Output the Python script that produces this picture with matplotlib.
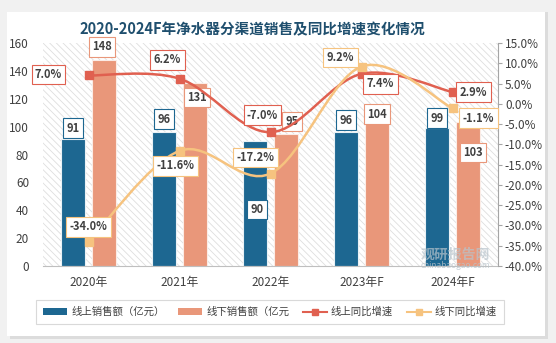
import matplotlib
matplotlib.use("Agg")
import matplotlib.pyplot as plt
from matplotlib.patches import Rectangle, Patch, PathPatch
from matplotlib.lines import Line2D
from matplotlib.path import Path
import numpy as np

plt.rcParams['font.family'] = ['Noto Sans CJK SC', 'DejaVu Sans']
plt.rcParams['hatch.linewidth'] = 0.6

# ---- data ----
years = ["2020年", "2021年", "2022年", "2023年F", "2024年F"]
online_sales = [91, 96, 90, 96, 99]          # 亿元
offline_sales = [148, 131, 95, 104, 103]     # 亿元
online_yoy = [7.0, 6.2, -7.0, 7.4, 2.9]      # %
offline_yoy = [-34.0, -11.6, -17.2, 9.2, -1.1]  # %

legend_labels = ["线上销售额（亿元）", "线下销售额（亿元", "线上同比增速", "线下同比增速"]
title = "2020-2024F年净水器分渠道销售及同比增速变化情况"

BLUE = '#1d6791'
ORANGE = '#e9977a'
RED = '#e06050'
YELLOW = '#f6c37f'
TXT = '#404040'

fig = plt.figure(figsize=(5.56, 3.43), dpi=100)
fig.patch.set_facecolor('#f1f1f1')
# card with soft shadow
fig.add_artist(Rectangle((10/556, 4/343), 538/556, 327/343, transform=fig.transFigure,
                         fc='#dcdcdc', ec='none', zorder=-2))
fig.add_artist(Rectangle((7/556, 7/343), 538/556, 324/343, transform=fig.transFigure,
                         fc='white', ec='none', zorder=-1))

ax = fig.add_axes([43/556, 77/343, 455/556, 223/343])
ax.set_facecolor('none')
x = np.arange(len(years))
w = 0.265
off = 0.17

ax.add_patch(Rectangle((-0.5, 0), 5, 160, fc='white', ec='#dedede', lw=0,
                       hatch='\\\\\\\\\\', zorder=0))

ax.bar(x - off, online_sales, w, color=BLUE, edgecolor='#eaf1f5', linewidth=0.8, zorder=2)
ax.bar(x + off, offline_sales, w, color=ORANGE, edgecolor='#fbece6', linewidth=0.8, zorder=2)
ax.set_xlim(-0.5, 4.5)
ax.set_ylim(0, 160)
ax.set_yticks(range(0, 161, 20))
ax.set_xticks(x)
ax.set_xticklabels(years)
for s in ['top', 'right', 'left']:
    ax.spines[s].set_visible(False)
ax.spines['bottom'].set_color('#bfbfbf')
ax.tick_params(axis='y', length=0, labelsize=8.5, labelcolor=TXT, pad=10)
ax.tick_params(axis='x', length=0, labelsize=8.5, labelcolor=TXT, pad=7)

box_kw = dict(boxstyle='square,pad=0.3', fc='white', lw=0.8)

online_off = [(0, 11), (0, 13), (2, -69), (0, 12), (0, 10)]
offline_off = [(-2, 13), (2, -14), (6, 12), (0, 7), (5, -30)]
for i, v in enumerate(online_sales):
    ax.annotate(f"{v}", (x[i] - off, v), xytext=online_off[i], textcoords='offset pixels',
                ha='center', va='center', fontsize=8, fontweight='bold', color=TXT,
                bbox=dict(ec=BLUE, **box_kw), zorder=6)
for i, v in enumerate(offline_sales):
    ax.annotate(f"{v}", (x[i] + off, v), xytext=offline_off[i], textcoords='offset pixels',
                ha='center', va='center', fontsize=8, fontweight='bold', color=TXT,
                bbox=dict(ec=ORANGE, **box_kw), zorder=6)

ax2 = ax.twinx()
ax2.set_ylim(-40, 15)
ax2.set_yticks(np.arange(-40, 15.1, 5))
ax2.set_yticklabels([f"{t:.1f}%" for t in np.arange(-40, 15.1, 5)])
for s in ['top', 'left', 'bottom']:
    ax2.spines[s].set_visible(False)
ax2.spines['right'].set_color('#a6a6a6')
ax2.tick_params(axis='y', length=3, color='#a6a6a6', labelsize=8.5, labelcolor=TXT, pad=2)


def smooth_path(xs, ys):
    pts = np.column_stack([xs, ys]).astype(float)
    n = len(pts)
    verts = [pts[0]]
    codes = [Path.MOVETO]
    for i in range(n - 1):
        p0 = pts[i - 1] if i > 0 else pts[i]
        p1, p2 = pts[i], pts[i + 1]
        p3 = pts[i + 2] if i + 2 < n else pts[i + 1]
        c1 = p1 + (p2 - p0) / 6.0
        c2 = p2 - (p3 - p1) / 6.0
        verts += [c1, c2, p2]
        codes += [Path.CURVE4] * 3
    return Path(verts, codes)


for vals, col in [(online_yoy, RED), (offline_yoy, YELLOW)]:
    ax2.add_patch(PathPatch(smooth_path(x, vals), fc='none', ec=col, lw=1.8, zorder=3))
    ax2.plot(x, vals, ls='none', marker='s', ms=6, color=col, zorder=4)

red_off = [(-40, 1), (-12, 19), (-8, 17), (19, -10), (21, 0)]
yel_off = [(0, 15), (-4, -15), (-15, 16), (-21, 9), (26, -10)]
for i, v in enumerate(online_yoy):
    ax2.annotate(f"{v:.1f}%", (x[i], v), xytext=red_off[i], textcoords='offset pixels',
                 ha='center', va='center', fontsize=8, fontweight='bold', color=TXT,
                 bbox=dict(ec=RED, **box_kw), zorder=7)
for i, v in enumerate(offline_yoy):
    ax2.annotate(f"{v:.1f}%", (x[i], v), xytext=yel_off[i], textcoords='offset pixels',
                 ha='center', va='center', fontsize=8, fontweight='bold', color=TXT,
                 bbox=dict(ec=YELLOW, **box_kw), zorder=7)

# watermark
fig.text(455/556, 88/343, "观研报告网", fontsize=10, fontweight='bold', color='#b8c4cc',
         alpha=0.7, ha='center', va='center')
fig.text(455/556, 78/343, "chinabaogao.com", fontsize=6, color='#b8c4cc', alpha=0.8,
         ha='center', va='center')

fig.text(252/556, 1 - 29/343, title, fontsize=10.5, fontweight='bold', color='#1f4f6e',
         ha='center', va='center')

handles = [Patch(fc=BLUE, ec='none'), Patch(fc=ORANGE, ec='none'),
           Line2D([], [], color=RED, marker='s', ms=4, lw=1.5),
           Line2D([], [], color=YELLOW, marker='s', ms=4, lw=1.5)]
leg = fig.legend(handles, legend_labels, ncol=4, loc='center',
                 bbox_to_anchor=(270/556, 1 - 312/343), frameon=True, fancybox=False,
                 edgecolor='#d0d0d0', fontsize=7.5, handlelength=2.3, handleheight=0.55,
                 columnspacing=1.3, handletextpad=0.4, borderpad=0.7)
leg.get_frame().set_linewidth(0.8)
for t in leg.get_texts():
    t.set_color(TXT)

fig.savefig("out.png", dpi=100, facecolor=fig.get_facecolor())
